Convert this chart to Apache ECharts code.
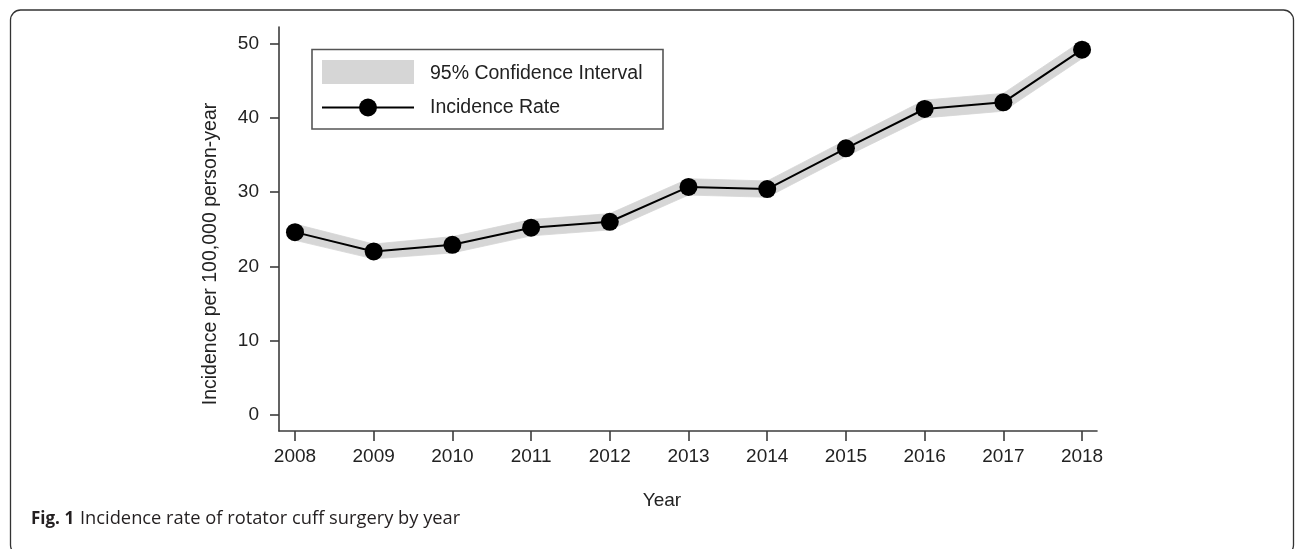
<!DOCTYPE html>
<html>
<head>
<meta charset="utf-8">
<script src="https://cdn.jsdelivr.net/npm/echarts@6/dist/echarts.min.js"></script>
<style>
  html, body { margin: 0; padding: 0; background: #ffffff; }
  #chart { width: 1296px; height: 549px; }
</style>
</head>
<body>
<div id="chart"></div>
<script>
// Rotator cuff surgery incidence per 100,000 person-years, 2008-2018
const years = [2008, 2009, 2010, 2011, 2012, 2013, 2014, 2015, 2016, 2017, 2018];
const incidence = [24.6, 22.0, 22.9, 25.2, 26.0, 30.7, 30.4, 35.9, 41.2, 42.1, 49.2];
const ciLower = [23.5, 21.0, 21.8, 24.1, 24.9, 29.6, 29.3, 34.8, 40.0, 40.9, 48.0];
const ciUpper = [25.7, 23.0, 24.0, 26.3, 27.1, 31.8, 31.5, 37.0, 42.4, 43.3, 50.4];
const yTicks = [0, 10, 20, 30, 40, 50];
const xTicks = years;

const FONT = '"Liberation Sans", Arial, Helvetica, sans-serif';
const CAPTION_FONT = '"Open Sans", "Noto Sans", sans-serif';
const TEXT = '#222222';
const AXIS = '#3c3c3c';
const BAND = '#d6d6d6';

// Confidence band drawn as one quadrilateral per segment between adjacent years
const bandSegments = [];
for (let i = 0; i < years.length - 1; i++) {
  bandSegments.push([years[i], ciLower[i], ciUpper[i], years[i + 1], ciLower[i + 1], ciUpper[i + 1]]);
}
const ratePoints = years.map((y, i) => [y, incidence[i]]);

const chart = echarts.init(document.getElementById('chart'), null, { renderer: 'canvas' });

chart.setOption({
  animation: false,
  backgroundColor: '#ffffff',
  grid: { left: 279, right: 199, top: 27, bottom: 118, containLabel: false },
  xAxis: {
    type: 'value',
    min: 2007.797,
    max: 2018.19,
    axisLine: { show: true, onZero: false, lineStyle: { color: AXIS, width: 1.6 } },
    axisTick: { show: true, length: 10, customValues: xTicks, lineStyle: { color: AXIS, width: 1.6 } },
    axisLabel: {
      customValues: xTicks,
      margin: 16,
      color: TEXT,
      fontFamily: FONT,
      fontSize: 19,
      formatter: v => String(v)
    },
    splitLine: { show: false }
  },
  yAxis: {
    type: 'value',
    min: -2.2,
    max: 52.25,
    axisLine: { show: true, onZero: false, lineStyle: { color: AXIS, width: 1.6 } },
    axisTick: { show: true, length: 9, customValues: yTicks, lineStyle: { color: AXIS, width: 1.6 } },
    axisLabel: {
      customValues: yTicks,
      margin: 20,
      color: TEXT,
      fontFamily: FONT,
      fontSize: 19
    },
    splitLine: { show: false }
  },
  series: [
    {
      name: '95% Confidence Interval',
      type: 'custom',
      data: bandSegments,
      encode: { x: [0, 3], y: [1, 2, 4, 5] },
      silent: true,
      z: 1,
      renderItem: function (params, api) {
        const p0l = api.coord([api.value(0), api.value(1)]);
        const p0h = api.coord([api.value(0), api.value(2)]);
        const p1l = api.coord([api.value(3), api.value(4)]);
        const p1h = api.coord([api.value(3), api.value(5)]);
        return {
          type: 'polygon',
          shape: { points: [p0l, p1l, p1h, p0h] },
          style: { fill: BAND, stroke: BAND, lineWidth: 0.8 }
        };
      }
    },
    {
      name: 'Incidence Rate',
      type: 'line',
      data: ratePoints,
      z: 3,
      symbol: 'circle',
      symbolSize: 18,
      showSymbol: true,
      itemStyle: { color: '#000000' },
      lineStyle: { color: '#000000', width: 2 }
    }
  ],
  graphic: [
    // outer figure frame
    {
      type: 'rect',
      shape: { x: 10.5, y: 10, width: 1283, height: 545, r: 10 },
      style: { fill: null, stroke: '#333333', lineWidth: 1.3 },
      z: 0
    },
    // legend
    {
      type: 'rect',
      shape: { x: 312, y: 49.5, width: 351, height: 79.5 },
      style: { fill: '#ffffff', stroke: '#555555', lineWidth: 1.6 },
      z: 10
    },
    {
      type: 'rect',
      shape: { x: 322, y: 60, width: 92, height: 24 },
      style: { fill: BAND },
      z: 11
    },
    {
      type: 'line',
      shape: { x1: 322, y1: 107.5, x2: 414, y2: 107.5 },
      style: { stroke: '#000000', lineWidth: 2 },
      z: 11
    },
    {
      type: 'circle',
      shape: { cx: 368, cy: 107.5, r: 9 },
      style: { fill: '#000000' },
      z: 12
    },
    {
      type: 'text',
      x: 430, y: 74,
      style: { text: '95% Confidence Interval', fill: TEXT, font: '19.5px ' + FONT, verticalAlign: 'middle' },
      z: 11
    },
    {
      type: 'text',
      x: 430, y: 108,
      style: { text: 'Incidence Rate', fill: TEXT, font: '19.5px ' + FONT, verticalAlign: 'middle' },
      z: 11
    },
    // axis titles
    {
      type: 'text',
      x: 211, y: 254,
      rotation: Math.PI / 2,
      style: { text: 'Incidence per 100,000 person-year', fill: TEXT, font: '19.5px ' + FONT, align: 'center', verticalAlign: 'middle' },
      z: 11
    },
    {
      type: 'text',
      x: 662, y: 501,
      style: { text: 'Year', fill: TEXT, font: '19px ' + FONT, align: 'center', verticalAlign: 'middle' },
      z: 11
    },
    // figure caption
    {
      type: 'text',
      x: 31, y: 519,
      style: { text: 'Fig. 1', fill: '#231f20', font: 'bold 17px ' + CAPTION_FONT, verticalAlign: 'middle' },
      z: 11
    },
    {
      type: 'text',
      x: 80, y: 519,
      style: { text: 'Incidence rate of rotator cuff surgery by year', fill: '#231f20', font: '18.3px ' + CAPTION_FONT, verticalAlign: 'middle' },
      z: 11
    }
  ]
});
</script>
</body>
</html>
